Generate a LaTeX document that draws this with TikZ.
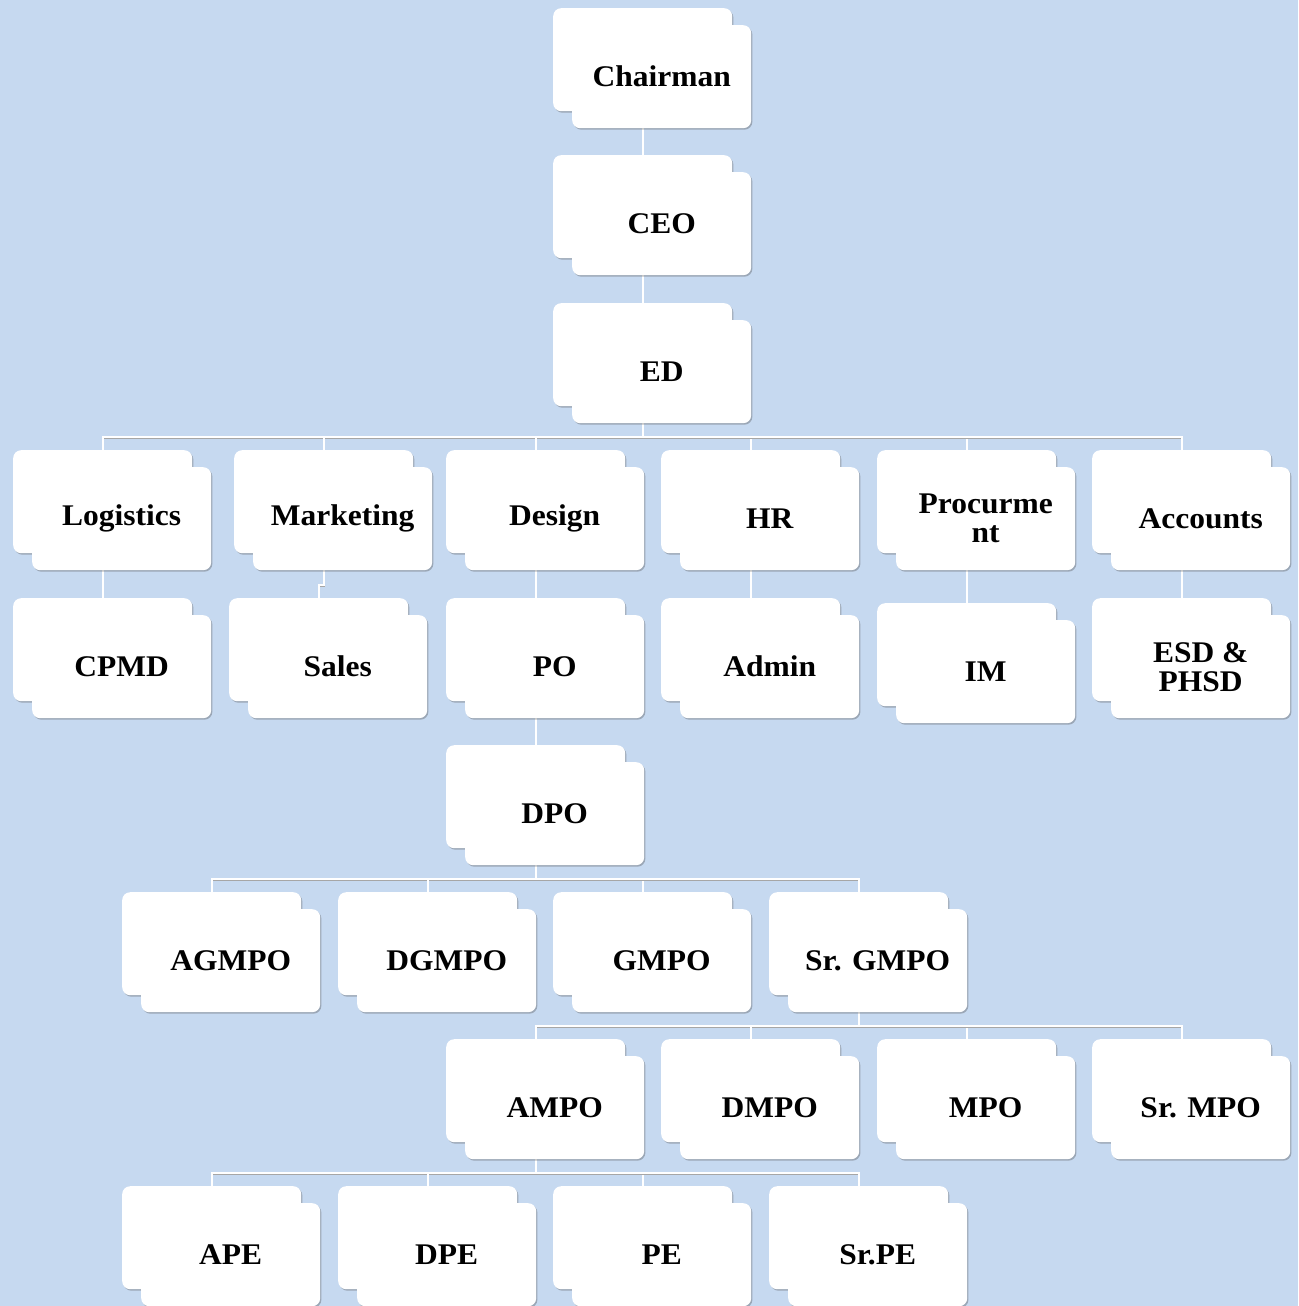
\documentclass[tikz,border=0pt]{standalone}
\usepackage{fontspec}
\setmainfont[FakeStretch=1.05]{Liberation Serif}
\usetikzlibrary{backgrounds,shadows}
\definecolor{pagebg}{RGB}{198,217,240}

\newcommand{\orgbox}[4]{%
    \node[backbox, anchor=north west] (#1-b) at (#2,#3) {};
    \node[frontbox, anchor=north west] (#1) at (#2+19,#3+17) {#4};}

\begin{document}
\begin{tikzpicture}[x=1pt, y=-1pt,
    card/.style={fill=white, rounded corners=8pt, inner sep=0pt,
        minimum width=179pt, minimum height=103pt,
        drop shadow={shadow xshift=1.2pt, shadow yshift=-1.5pt, opacity=0.35, fill=black!70}},
    backbox/.style={card},
    frontbox/.style={card, align=center, font=\fontsize{30}{29}\selectfont\bfseries},
    link/.style={draw=white, line width=1.6pt,
        preaction={draw=black!35, line width=1.6pt, transform canvas={xshift=0.8pt, yshift=-0.8pt}}}]
    \useasboundingbox (0,0) rectangle (1298,1306);

    \orgbox{chair}{553}{8}{Chairman}
    \orgbox{ceo}{553}{155}{CEO}
    \orgbox{ed}{553}{303}{ED}

    \orgbox{log}{13}{450}{Logistics}
    \orgbox{mkt}{234}{450}{Marketing}
    \orgbox{des}{446}{450}{Design}
    \orgbox{hr}{661}{450}{HR}
    \orgbox{proc}{877}{450}{Procurme\\nt}
    \orgbox{acc}{1092}{450}{Accounts}

    \orgbox{cpmd}{13}{598}{CPMD}
    \orgbox{sales}{229}{598}{Sales}
    \orgbox{po}{446}{598}{PO}
    \orgbox{admin}{661}{598}{Admin}
    \orgbox{im}{877}{603}{IM}
    \orgbox{esd}{1092}{598}{ESD \&\\PHSD}

    \orgbox{dpo}{446}{745}{DPO}

    \orgbox{agmpo}{122}{892}{AGMPO}
    \orgbox{dgmpo}{338}{892}{DGMPO}
    \orgbox{gmpo}{553}{892}{GMPO}
    \orgbox{srgmpo}{769}{892}{Sr. GMPO}

    \orgbox{ampo}{446}{1039}{AMPO}
    \orgbox{dmpo}{661}{1039}{DMPO}
    \orgbox{mpo}{877}{1039}{MPO}
    \orgbox{srmpo}{1092}{1039}{Sr. MPO}

    \orgbox{ape}{122}{1186}{APE}
    \orgbox{dpe}{338}{1186}{DPE}
    \orgbox{pe}{553}{1186}{PE}
    \orgbox{srpe}{769}{1186}{Sr.PE}

    \begin{pgfonlayer}{background}
        \fill[pagebg] (0,0) rectangle (1298,1306);
        \draw[link] (chair-b.south) -- (ceo-b.north);
        \draw[link] (ceo-b.south) -- (ed-b.north);
        \foreach \c in {log,mkt,des,hr,proc,acc}
            \draw[link] (ed-b.south) |- ([yshift=13pt]\c-b.north) -- (\c-b.north);
        \draw[link] (log-b.south) -- (cpmd-b.north);
        \draw[link] (mkt-b.south) |- ([yshift=13pt]sales-b.north) -- (sales-b.north);
        \draw[link] (des-b.south) -- (po-b.north);
        \draw[link] (hr-b.south) -- (admin-b.north);
        \draw[link] (proc-b.south) -- (im-b.north);
        \draw[link] (acc-b.south) -- (esd-b.north);
        \draw[link] (po-b.south) -- (dpo-b.north);
        \foreach \c in {agmpo,dgmpo,gmpo,srgmpo}
            \draw[link] (dpo-b.south) |- ([yshift=13pt]\c-b.north) -- (\c-b.north);
        \foreach \c in {ampo,dmpo,mpo,srmpo}
            \draw[link] (srgmpo-b.south) |- ([yshift=13pt]\c-b.north) -- (\c-b.north);
        \foreach \c in {ape,dpe,pe,srpe}
            \draw[link] (ampo-b.south) |- ([yshift=13pt]\c-b.north) -- (\c-b.north);
    \end{pgfonlayer}
\end{tikzpicture}
\end{document}
